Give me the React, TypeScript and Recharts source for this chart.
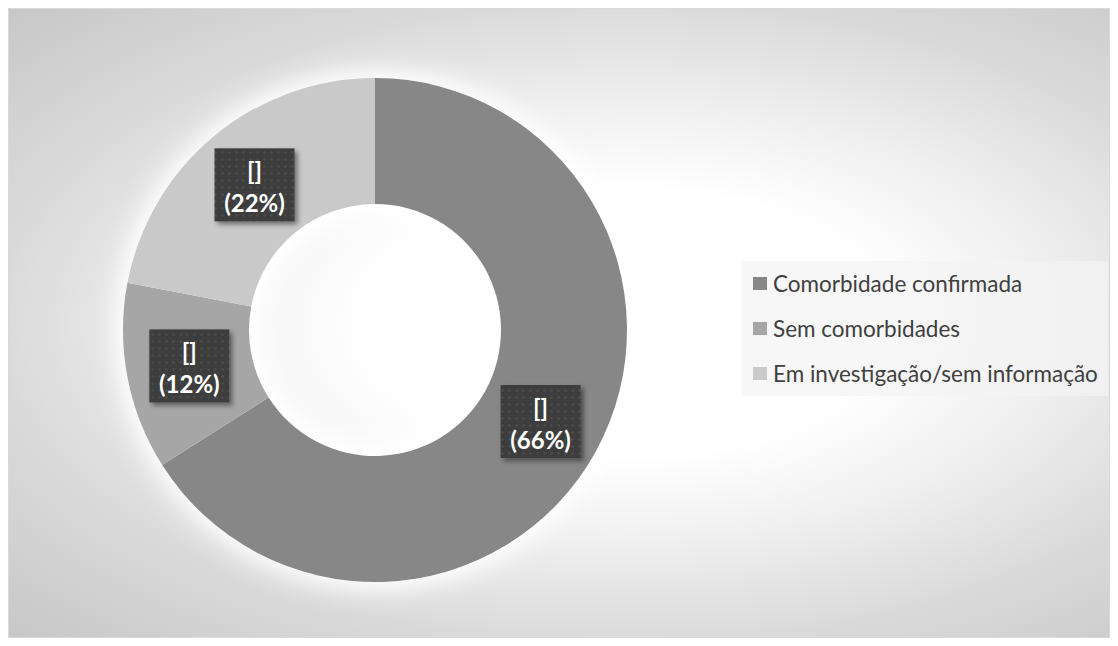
import { PieChart, Pie, Cell, Legend } from "recharts";

const categories = ["Comorbidade confirmada", "Sem comorbidades", "Em investigação/sem informação"];
const shares = [66, 12, 22];
const valueLabels = ["[]", "[]", "[]"];

const COLORS = ["#878787", "#a6a6a6", "#c9c9c9"];
const RADIAN = Math.PI / 180;
const FONT = "Lato, 'Open Sans', sans-serif";

const data = categories.map((name, i) => ({ name, value: shares[i], tag: valueLabels[i] }));
const glowData = [{ name: "glow", value: 1 }];

const renderLabel = (props: any) => {
  const { cx, cy, midAngle, innerRadius, outerRadius, percent, index } = props;
  const r = (innerRadius + outerRadius) / 2;
  const x = cx + r * Math.cos(-midAngle * RADIAN);
  const y = cy + r * Math.sin(-midAngle * RADIAN);
  return (
    <g>
      <rect x={x - 40} y={y - 36} width={80} height={73} fill="url(#dots)" filter="url(#boxShadow)" />
      <text x={x} y={y - 14} textAnchor="middle" dominantBaseline="central" fill="#ffffff" fontWeight={700} fontSize={24} fontFamily={FONT}>
        {data[index].tag}
      </text>
      <text x={x} y={y + 18} textAnchor="middle" dominantBaseline="central" fill="#ffffff" fontWeight={700} fontSize={24} fontFamily={FONT}>
        ({Math.round(percent * 100)}%)
      </text>
    </g>
  );
};

const renderLegend = () => (
  <div
    style={{
      width: 366,
      height: 135,
      background: "rgba(244,244,244,0.7)",
      boxSizing: "border-box",
      paddingLeft: 11,
      paddingTop: 0,
      fontFamily: FONT,
      fontSize: 22.5,
      color: "#404040",
    }}
  >
    {categories.map((name, i) => (
      <div key={name} style={{ display: "flex", alignItems: "center", height: 45 }}>
        <span style={{ width: 14, height: 13, background: COLORS[i], marginRight: 6, display: "inline-block" }} />
        <span>{name}</span>
      </div>
    ))}
  </div>
);

export default function App() {
  return (
    <div
      style={{
        position: "relative",
        width: 1102,
        height: 630,
        border: "1px solid #d9d9d9",
        boxSizing: "border-box",
        background:
          "radial-gradient(ellipse farthest-corner at 56% 50%, #ffffff 0%, #ffffff 30%, #efefef 50%, #dadada 72%, #c7c7c7 100%)",
      }}
    >
      <PieChart width={1100} height={628} margin={{ top: 0, right: 0, bottom: 0, left: 0 }}>
        <defs>
          <pattern id="dots" width="7" height="7" patternUnits="userSpaceOnUse">
            <rect width="7" height="7" fill="#3c3c3c" />
            <circle cx="3.5" cy="3.5" r="1.3" fill="#4e4e4e" />
          </pattern>
          <filter id="boxShadow" x="-20%" y="-20%" width="150%" height="150%">
            <feDropShadow dx="3" dy="3" stdDeviation="2.5" floodColor="#000" floodOpacity="0.45" />
          </filter>
          <filter id="glow" x="-30%" y="-30%" width="160%" height="160%">
            <feGaussianBlur stdDeviation="12" />
          </filter>
        </defs>
        <Pie
          data={glowData}
          dataKey="value"
          cx={366}
          cy={321}
          innerRadius={110}
          outerRadius={260}
          stroke="none"
          isAnimationActive={false}
        >
          <Cell fill="#ffffff" filter="url(#glow)" />
        </Pie>
        <Pie
          data={data}
          dataKey="value"
          cx={366}
          cy={321}
          innerRadius={126}
          outerRadius={252}
          startAngle={90}
          endAngle={-270}
          stroke="none"
          label={renderLabel}
          labelLine={false}
          isAnimationActive={false}
        >
          {data.map((_, index) => (
            <Cell key={`cell-${index}`} fill={COLORS[index % COLORS.length]} />
          ))}
        </Pie>
        <Legend content={renderLegend} wrapperStyle={{ left: 733, top: 252, width: 366, height: 135 }} />
      </PieChart>
    </div>
  );
}
